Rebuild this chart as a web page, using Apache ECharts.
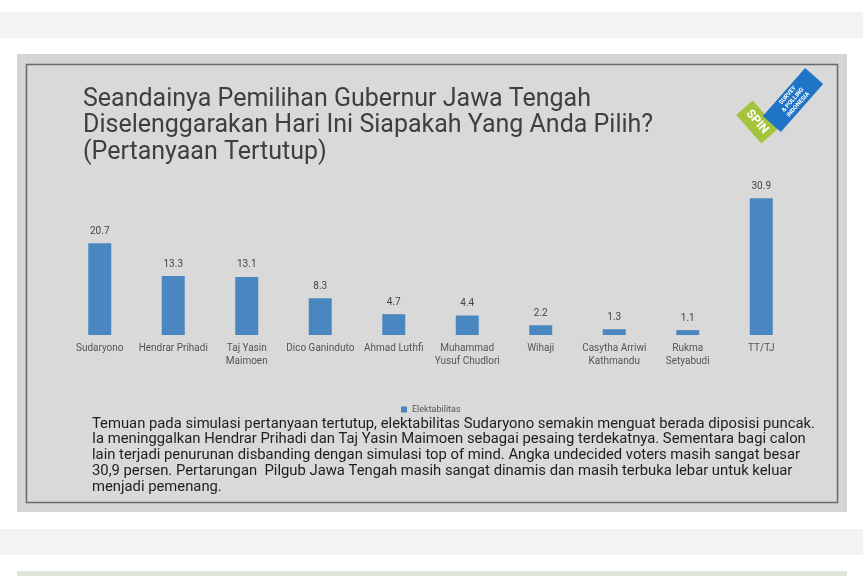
<!DOCTYPE html>
<html>
<head>
<meta charset="utf-8">
<script src="https://cdn.jsdelivr.net/npm/echarts@6/dist/echarts.min.js"></script>
<style>
html,body{margin:0;padding:0;background:#ffffff;}
#c{width:863px;height:576px;}
</style>
</head>
<body>
<div id="c"></div>
<script>
const categories = ["Sudaryono", "Hendrar Prihadi", "Taj Yasin\nMaimoen", "Dico Ganinduto", "Ahmad Luthfi", "Muhammad\nYusuf Chudlori", "Wihaji", "Casytha Arriwi\nKathmandu", "Rukma\nSetyabudi", "TT/TJ"];
const elektabilitas = [20.7, 13.3, 13.1, 8.3, 4.7, 4.4, 2.2, 1.3, 1.1, 30.9];
const seriesName = "Elektabilitas";
const titleLines = ["Seandainya Pemilihan Gubernur Jawa Tengah", "Diselenggarakan Hari Ini Siapakah Yang Anda Pilih?", "(Pertanyaan Tertutup)"];
const noteLines = [
  "Temuan pada simulasi pertanyaan tertutup, elektabilitas Sudaryono semakin menguat berada diposisi puncak.",
  "Ia meninggalkan Hendrar Prihadi dan Taj Yasin Maimoen sebagai pesaing terdekatnya. Sementara bagi calon",
  "lain terjadi penurunan disbanding dengan simulasi top of mind. Angka undecided voters masih sangat besar",
  "30,9 persen. Pertarungan  Pilgub Jawa Tengah masih sangat dinamis dan masih terbuka lebar untuk keluar",
  "menjadi pemenang."
];

const chart = echarts.init(document.getElementById('c'), null, {renderer: 'canvas'});
const font = 'Roboto, "Noto Sans", sans-serif';
const BLUE = '#4a86c0';

const graphics = [
  {type:'rect', z:-10, shape:{x:0,y:12,width:863,height:26}, style:{fill:'#f3f3f3'}},
  {type:'rect', z:-10, shape:{x:0,y:529,width:863,height:26}, style:{fill:'#f3f3f3'}},
  {type:'rect', z:-10, shape:{x:17,y:571,width:830,height:10}, style:{fill:'#dfe6da'}},
  {type:'rect', z:-9, shape:{x:17,y:54,width:830,height:458}, style:{fill:'#d5d5d5'}},
  {type:'rect', z:-8, shape:{x:26.5,y:64.5,width:811,height:438}, style:{fill:'#d9d9d9', stroke:'#6a6a6a', lineWidth:1.5}},
  {type:'text', left:83, top:86, style:{text: titleLines.join('\n'), font:'25px ' + font, fill:'#3f3f3f', lineHeight:26.8}},
  {type:'text', left:92, top:416, style:{text: noteLines.join('\n'), font:'14.8px ' + font, fill:'#1e1e1e', lineHeight:15.8}},
  // SPIN logo
  {type:'group', x:757, y:122, rotation:-Math.PI*0.27, children:[
    {type:'rect', shape:{x:-19,y:-11,width:38,height:22}, style:{fill:'#a3c43c'}},
    {type:'text', style:{text:'SPIN', x:0, y:0, align:'center', verticalAlign:'middle', font:'bold 12px ' + font, fill:'#ffffff'}}
  ]},
  {type:'group', x:793, y:100, rotation:Math.PI*0.27, children:[
    {type:'rect', shape:{x:-32,y:-12,width:64,height:24}, style:{fill:'#1f74c8'}},
    {type:'text', style:{text:'SURVEY\n& POLLING\nINDONESIA', x:0, y:0, align:'center', verticalAlign:'middle', font:'bold 6px ' + font, fill:'#ffffff', lineHeight:7}}
  ]}
];

chart.setOption({
  animation:false,
  backgroundColor:'#ffffff',
  graphic: graphics,
  legend:{
    data:[seriesName], left:396, top:400, itemWidth:6, itemHeight:6, itemGap:4,
    icon:'rect',
    textStyle:{fontSize:9, color:'#555', fontFamily:font}
  },
  grid:{left:63, right:65, top:180, bottom:241, containLabel:false},
  xAxis:{
    type:'category', data:categories,
    axisLine:{show:false}, axisTick:{show:false},
    axisLabel:{interval:0, fontSize:10, color:'#555', fontFamily:font, lineHeight:13, margin:7}
  },
  yAxis:{type:'value', min:0, max:35, show:false, splitLine:{show:false}},
  series:[{
    name:seriesName, type:'bar', data:elektabilitas, barWidth:23,
    itemStyle:{color:BLUE},
    label:{show:true, position:'top', distance:7, fontSize:10, color:'#444', fontFamily:font, formatter: p => p.value.toFixed(1)}
  }]
});
</script>
</body>
</html>
